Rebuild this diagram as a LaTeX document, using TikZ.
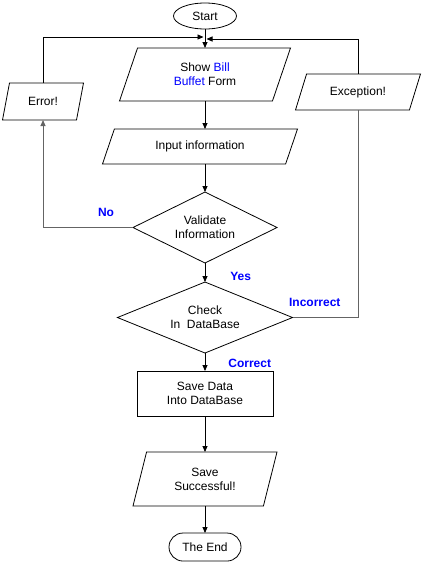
\documentclass[tikz,border=0pt]{standalone}
\usepackage{fontspec}
\setmainfont{Liberation Sans}
\usetikzlibrary{arrows.meta,positioning,shapes.geometric}
\definecolor{labelblue}{RGB}{0,0,255}
\definecolor{loopgray}{RGB}{100,100,100}

\begin{document}
\begin{tikzpicture}[
      x=1pt,y=1pt,
      every node/.style={font=\fontsize{12}{14}\selectfont,align=center,inner sep=1pt},
      shape line/.style={draw=black,line width=0.8pt,fill=white,outer sep=0pt},
      iobox/.style 2 args={shape line,trapezium,trapezium stretches body,
        trapezium left angle=#1,trapezium right angle=#2},
      terminal/.style={shape line,ellipse,minimum width=63pt,minimum height=26pt},
      process/.style={shape line,rectangle,minimum width=136pt,minimum height=45pt},
      decision/.style={shape line,diamond,inner sep=0pt},
      arrow/.style={-{Triangle[length=6pt,width=5pt]},line width=0.8pt,draw=black},
      back/.style={line width=1pt,draw=loopgray},
      answer/.style={font=\fontsize{12}{14}\selectfont\bfseries,text=labelblue}
    ]
      \useasboundingbox (0,0) rectangle (422,-565);

      \node[terminal] (start) at (205,-16) {Start};
      \node[iobox={54}{126},minimum width=171pt,minimum height=53pt,below=19pt of start]
        (show) {Show \textcolor{labelblue}{Bill}\\\textcolor{labelblue}{Buffet} Form};
      \node[iobox={48}{132},minimum width=195pt,minimum height=35pt,below=28pt of show,xshift=-5pt]
        (input) {Input information};
      \node[decision,aspect=2,minimum width=144pt,minimum height=71pt,below=28pt of input,xshift=5pt]
        (validate) {Validate\\Information};
      \node[decision,aspect=2.5,minimum width=175pt,minimum height=71pt,below=19pt of validate]
        (check) {Check\\In\ \ DataBase};
      \node[process,below=18pt of check] (savedb) {Save Data\\Into DataBase};
      \node[iobox={61}{119},minimum width=144pt,minimum height=54pt,below=36pt of savedb]
        (saveok) {Save\\Successful!};
      \node[shape line,rectangle,rounded corners=14pt,minimum width=72pt,minimum height=28pt,
        below=27pt of saveok] (theend) {The End};

      \node[iobox={56}{124},minimum width=81pt,minimum height=37pt] (error) at (43,-101.5) {Error!};
      \node[iobox={50}{130},minimum width=125pt,minimum height=36pt] (except) at (358,-92) {Exception!};

      \coordinate (joinl) at (203.5,-37);
      \coordinate (joinr) at (206.5,-39);

      % main column
      \draw[arrow] (start.south) -- (show.north);
      \draw[arrow] (show.south) -- (show.south |- input.north);
      \draw[arrow] (validate.north |- input.south) -- (validate.north);
      \draw[arrow] (validate.south) -- node[answer,pos=0.7,right=24pt]{Yes} (check.north);
      \draw[arrow] (check.south) -- node[answer,pos=0.55,right=22pt]{Correct} (savedb.north);
      \draw[arrow] (savedb.south) -- (saveok.north);
      \draw[arrow] (saveok.south) -- (theend.north);

      % loops back to the form
      \draw[arrow,back] (validate.west) -| node[answer,pos=0.15,above=9pt]{No} (error.south);
      \draw[arrow] (error.north) |- (joinl);
      \draw[back] (check.east) -| node[answer,pos=0.17,above=9pt]{Incorrect} (except.south);
      \draw[arrow] (except.north) |- (joinr);
    \end{tikzpicture}
\end{document}
